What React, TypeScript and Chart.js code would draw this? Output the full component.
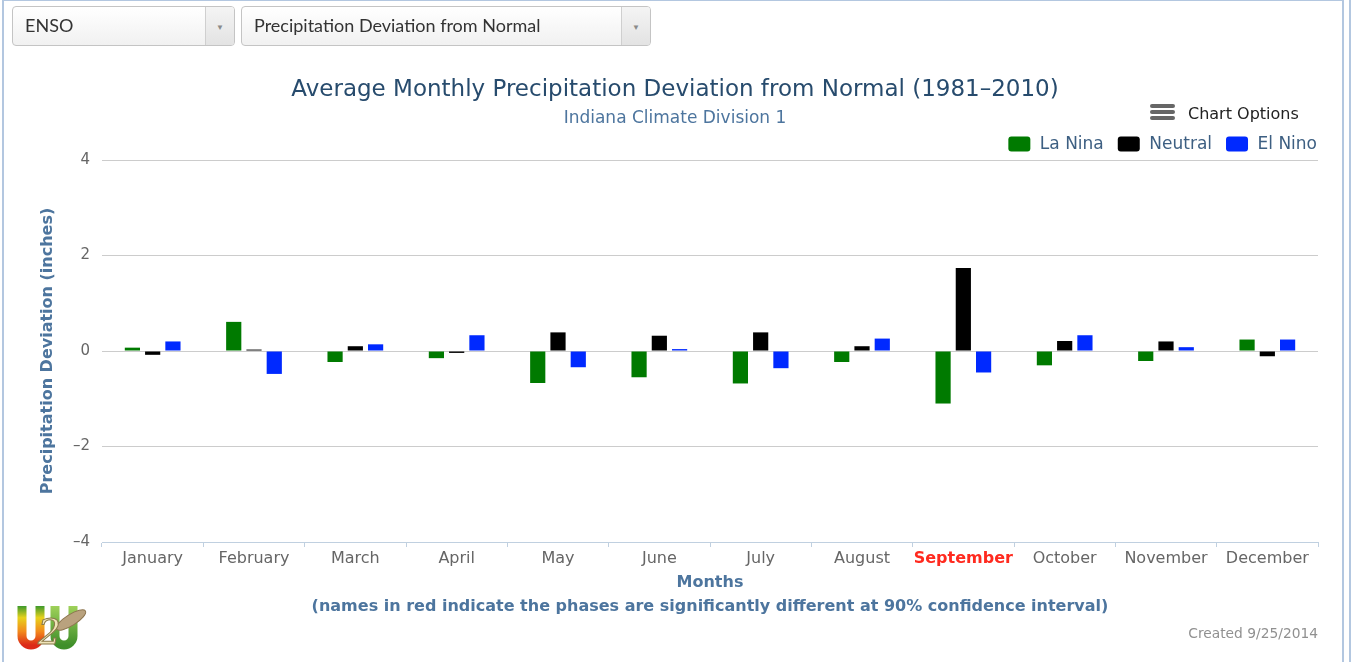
import React, { useEffect, useRef } from 'react';
import { Chart, registerables } from 'chart.js';

Chart.register(...registerables);

const months = ['January', 'February', 'March', 'April', 'May', 'June', 'July', 'August', 'September', 'October', 'November', 'December'];
const laNina = [0.07, 0.61, -0.23, -0.15, -0.67, -0.55, -0.68, -0.23, -1.1, -0.3, -0.21, 0.24];
const neutral = [-0.08, 0.03, 0.1, -0.04, 0.39, 0.32, 0.39, 0.1, 1.74, 0.21, 0.2, -0.11];
const elNino = [0.2, -0.48, 0.14, 0.33, -0.34, 0.04, -0.36, 0.26, -0.45, 0.33, 0.08, 0.24];
const significantMonths = ['September'];
const yMin = -4;
const yMax = 4;
const yStep = 2;

const seriesNames = ['La Nina', 'Neutral', 'El Nino'];
const seriesColors = ['#007a00', '#000000', '#0029ff'];

const FONT = '"DejaVu Sans", sans-serif';

const customLegend = {
  id: 'customLegend',
  afterDraw(chart: any) {
    const ctx = chart.ctx;
    const ds = chart.data.datasets;
    ctx.save();
    ctx.font = '17px ' + FONT;
    const boxW = 22, boxH = 15, gap = 9.5, spacing = 14;
    const right = 1317, cy = 144;
    const widths = ds.map((d: any) => ctx.measureText(d.label).width);
    let total = 0;
    widths.forEach((w: number) => { total += boxW + gap + w; });
    total += spacing * (ds.length - 1);
    let x = right - total;
    ds.forEach((d: any, i: number) => {
      ctx.fillStyle = d.backgroundColor;
      ctx.beginPath();
      (ctx as any).roundRect(x, cy - boxH / 2, boxW, boxH, 3);
      ctx.fill();
      ctx.fillStyle = '#3d5f82';
      ctx.textBaseline = 'middle';
      ctx.textAlign = 'left';
      ctx.fillText(d.label, x + boxW + gap, cy + 1);
      x += boxW + gap + widths[i] + spacing;
    });
    ctx.restore();
  },
};

function ChartView() {
  const ref = useRef<HTMLCanvasElement | null>(null);
  useEffect(() => {
    if (!ref.current) return;
    Chart.defaults.font.family = FONT;
    const chart = new Chart(ref.current, {
      type: 'bar',
      data: {
        labels: months,
        datasets: [laNina, neutral, elNino].map((vals, i) => ({
          label: seriesNames[i],
          data: vals,
          backgroundColor: seriesColors[i],
          borderWidth: 0,
          barPercentage: 0.75,
          categoryPercentage: 0.6,
        })),
      },
      options: {
        animation: false,
        responsive: false,
        devicePixelRatio: 1,
        layout: { padding: { top: 76, left: 32, right: 34, bottom: 40 } },
        plugins: {
          legend: { display: false },
          tooltip: { enabled: false },
          title: {
            display: true,
            text: 'Average Monthly Precipitation Deviation from Normal (1981–2010)',
            color: '#274b6d',
            font: { family: FONT, size: 23, weight: 'normal' },
            padding: { top: 0, bottom: 0 },
          },
          subtitle: {
            display: true,
            text: 'Indiana Climate Division 1',
            color: '#4d759e',
            font: { family: FONT, size: 17, weight: 'normal' },
            padding: { top: 5, bottom: 31 },
          },
        },
        scales: {
          x: {
            grid: { drawOnChartArea: false, drawTicks: true, tickLength: 5, color: '#C0D0E0', offset: true },
            border: { color: '#C0D0E0', width: 1 },
            ticks: {
              autoSkip: false,
              maxRotation: 0,
              padding: 2,
              color: (c: any) => (significantMonths.includes(months[c.index]) ? '#ff2a1f' : '#666666'),
              font: (c: any) => ({
                family: FONT,
                size: 16,
                weight: significantMonths.includes(months[c.index]) ? 'bold' : 'normal',
              }),
            },
            title: {
              display: true,
              text: ['Months', '(names in red indicate the phases are significantly different at 90% confidence interval)'],
              color: '#4d759e',
              font: { family: FONT, size: 16, weight: 'bold', lineHeight: 1.5 },
              padding: { top: 0, bottom: 3 },
            },
            afterFit: (s: any) => { s.height = 80; },
          },
          y: {
            min: yMin,
            max: yMax,
            ticks: {
              stepSize: yStep,
              color: '#666666',
              font: { family: FONT, size: 15 },
              padding: 12,
              callback: (v: any) => (Number(v) < 0 ? '–' + Math.abs(Number(v)) : String(v)),
            },
            grid: { color: '#cccccc', drawTicks: false },
            border: { display: false },
            title: {
              display: true,
              text: 'Precipitation Deviation (inches)',
              color: '#4d759e',
              font: { family: FONT, size: 16, weight: 'bold' },
              padding: { top: 6.4, bottom: 0 },
            },
            afterFit: (s: any) => { s.width = 70; },
          },
        },
      },
      plugins: [customLegend],
    } as any);
    return () => chart.destroy();
  }, []);
  return <canvas ref={ref} width={1352} height={662} style={{ position: 'absolute', left: 0, top: 0, width: 1352, height: 662 }} />;
}

function Dropdown({ left, width, text }: { left: number; width: number; text: string }) {
  return (
    <div
      style={{
        position: 'absolute', left, top: 6, width, height: 40, boxSizing: 'border-box',
        border: '1px solid #c4c4c4', borderRadius: 4,
        background: 'linear-gradient(#ffffff, #f1f1f1)', overflow: 'hidden',
        fontFamily: 'Lato, sans-serif', fontSize: 18, color: '#333',
      }}
    >
      <div style={{ position: 'absolute', left: 12, top: 0, height: 36, lineHeight: '36px' }}>{text}</div>
      <div
        style={{
          position: 'absolute', right: 0, top: 0, width: 28, height: 38,
          borderLeft: '1px solid #cfcfcf', background: 'linear-gradient(#f4f4f4, #e3e3e3)',
          color: '#8a8a8a', fontSize: 8, textAlign: 'center', lineHeight: '40px',
        }}
      >▼</div>
    </div>
  );
}

function Logo() {
  return (
    <svg width={80} height={56} style={{ position: 'absolute', left: 13, top: 598 }}>
      <defs>
        <linearGradient id="u1" x1="0" y1="0" x2="0" y2="1">
          <stop offset="0" stopColor="#3d9a2c" />
          <stop offset="0.3" stopColor="#e7d21c" />
          <stop offset="0.65" stopColor="#f28a1c" />
          <stop offset="1" stopColor="#dc2a18" />
        </linearGradient>
        <linearGradient id="u2" x1="0" y1="0" x2="0" y2="1">
          <stop offset="0" stopColor="#9fd15a" />
          <stop offset="1" stopColor="#3f8f2a" />
        </linearGradient>
      </defs>
      <path d="M9 8 V38 a9 9 0 0 0 18 0 V8" stroke="url(#u1)" strokeWidth={9} fill="none" />
      <path d="M42 8 V38 a9 9 0 0 0 18 0 V8" stroke="url(#u2)" strokeWidth={9} fill="none" />
      <ellipse cx={58} cy={22} rx={17} ry={5.5} transform="rotate(-32 58 22)" fill="#b9a27e" stroke="#8d7650" strokeWidth={1} />
      <text x={25} y={46} fontSize={36} fontStyle="italic" fontFamily="DejaVu Serif, serif" fill="#efe3b8" stroke="#8a7a4a" strokeWidth={1}>2</text>
    </svg>
  );
}

export default function App() {
  useEffect(() => {
    document.body.style.margin = '0';
  }, []);
  return (
    <div style={{ position: 'absolute', left: 0, top: 0, width: 1352, height: 662, overflow: 'hidden', background: '#fff' }}>
      <ChartView />
      <div style={{ position: 'absolute', left: 2, top: -1, width: 1342, height: 720, border: '2px solid #b3c7e0', boxSizing: 'border-box', pointerEvents: 'none' }} />
      <div style={{ position: 'absolute', left: 1349, top: 0, width: 2, height: 662, background: '#b3c7e0' }} />
      <Dropdown left={12} width={223} text="ENSO" />
      <Dropdown left={241} width={410} text="Precipitation Deviation from Normal" />
      <div style={{ position: 'absolute', left: 1150, top: 104 }}>
        {[0, 6, 12].map((t) => (
          <div key={t} style={{ position: 'absolute', left: 0, top: t, width: 25, height: 4, borderRadius: 2, background: '#666' }} />
        ))}
      </div>
      <div style={{ position: 'absolute', left: 1188, top: 103, fontFamily: FONT, fontSize: 16, color: '#222', lineHeight: '22px' }}>Chart Options</div>
      <Logo />
      <div style={{ position: 'absolute', right: 34, top: 624, fontFamily: FONT, fontSize: 13.8, color: '#909090', lineHeight: '18px' }}>Created 9/25/2014</div>
    </div>
  );
}
